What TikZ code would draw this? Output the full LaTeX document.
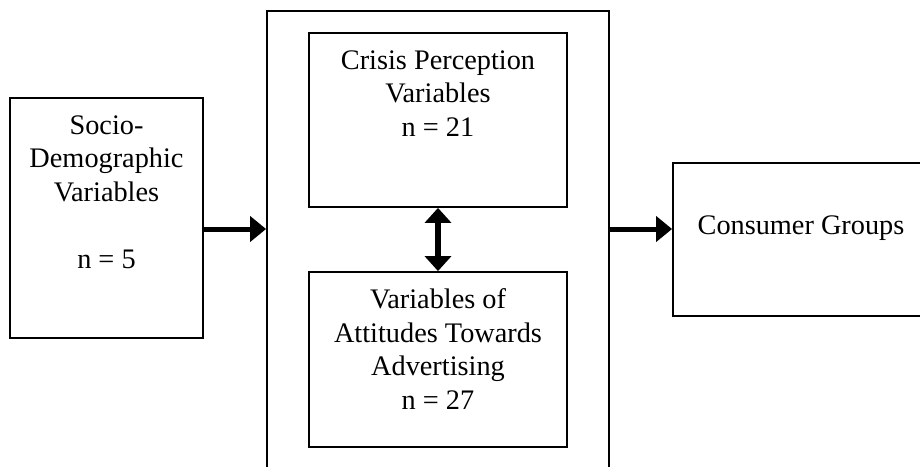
\documentclass[tikz,border=0pt]{standalone}
\usepackage{fontspec}
\setmainfont{Liberation Serif}
\usetikzlibrary{arrows.meta}
\begin{document}
\begin{tikzpicture}[x=0.5pt,y=-0.5pt,
  box/.style={draw=black, line width=0.9pt, rectangle, inner sep=0pt},
  lbl/.style={align=center, anchor=base, inner sep=0pt, font=\fontsize{14.15}{16.75}\selectfont},
  bigarrow/.style={line width=2.5pt, -{Triangle[length=8pt,width=12.5pt]}},
  dblarrow/.style={line width=2.6pt, {Triangle[length=7.5pt,width=13pt]}-{Triangle[length=7.5pt,width=13pt]}}]
\useasboundingbox (0,0) rectangle (920,466);
\clip (0,0) rectangle (920,466);
\fill[white] (0,0) rectangle (920,466);
% boxes
\node[box, minimum width=96.5pt, minimum height=120pt] (left) at (106.5,218) {};
\node[box, minimum width=171pt, minimum height=254.5pt] (mid) at (438,265.5) {};
\node[box, minimum width=129pt, minimum height=87pt] (up) at (438,120) {};
\node[box, minimum width=129pt, minimum height=87.5pt] (low) at (438,359.5) {};
\node[box, minimum width=163.5pt, minimum height=76.5pt] (right) at (836.5,239.5) {};
% labels (anchored at the baseline of the last line)
\node[lbl] (t1) at (106.5,268) {Socio-\\Demographic\\Variables\\[16.75pt]n = 5};
\node[lbl] (t2) at (438,136) {Crisis Perception\\Variables\\n = 21};
\node[lbl] (t3) at (438,409) {Variables of\\Attitudes Towards\\Advertising\\n = 27};
\node[lbl] (t4) at (801,234) {Consumer Groups};
% connectors
\draw[bigarrow] ([yshift=-5.5pt]left.east) coordinate (s1) -- (s1 -| mid.west);
\draw[bigarrow] (s1 -| mid.east) -- (s1 -| right.west);
\draw[dblarrow] (up.south) -- (low.north);
\end{tikzpicture}
\end{document}
